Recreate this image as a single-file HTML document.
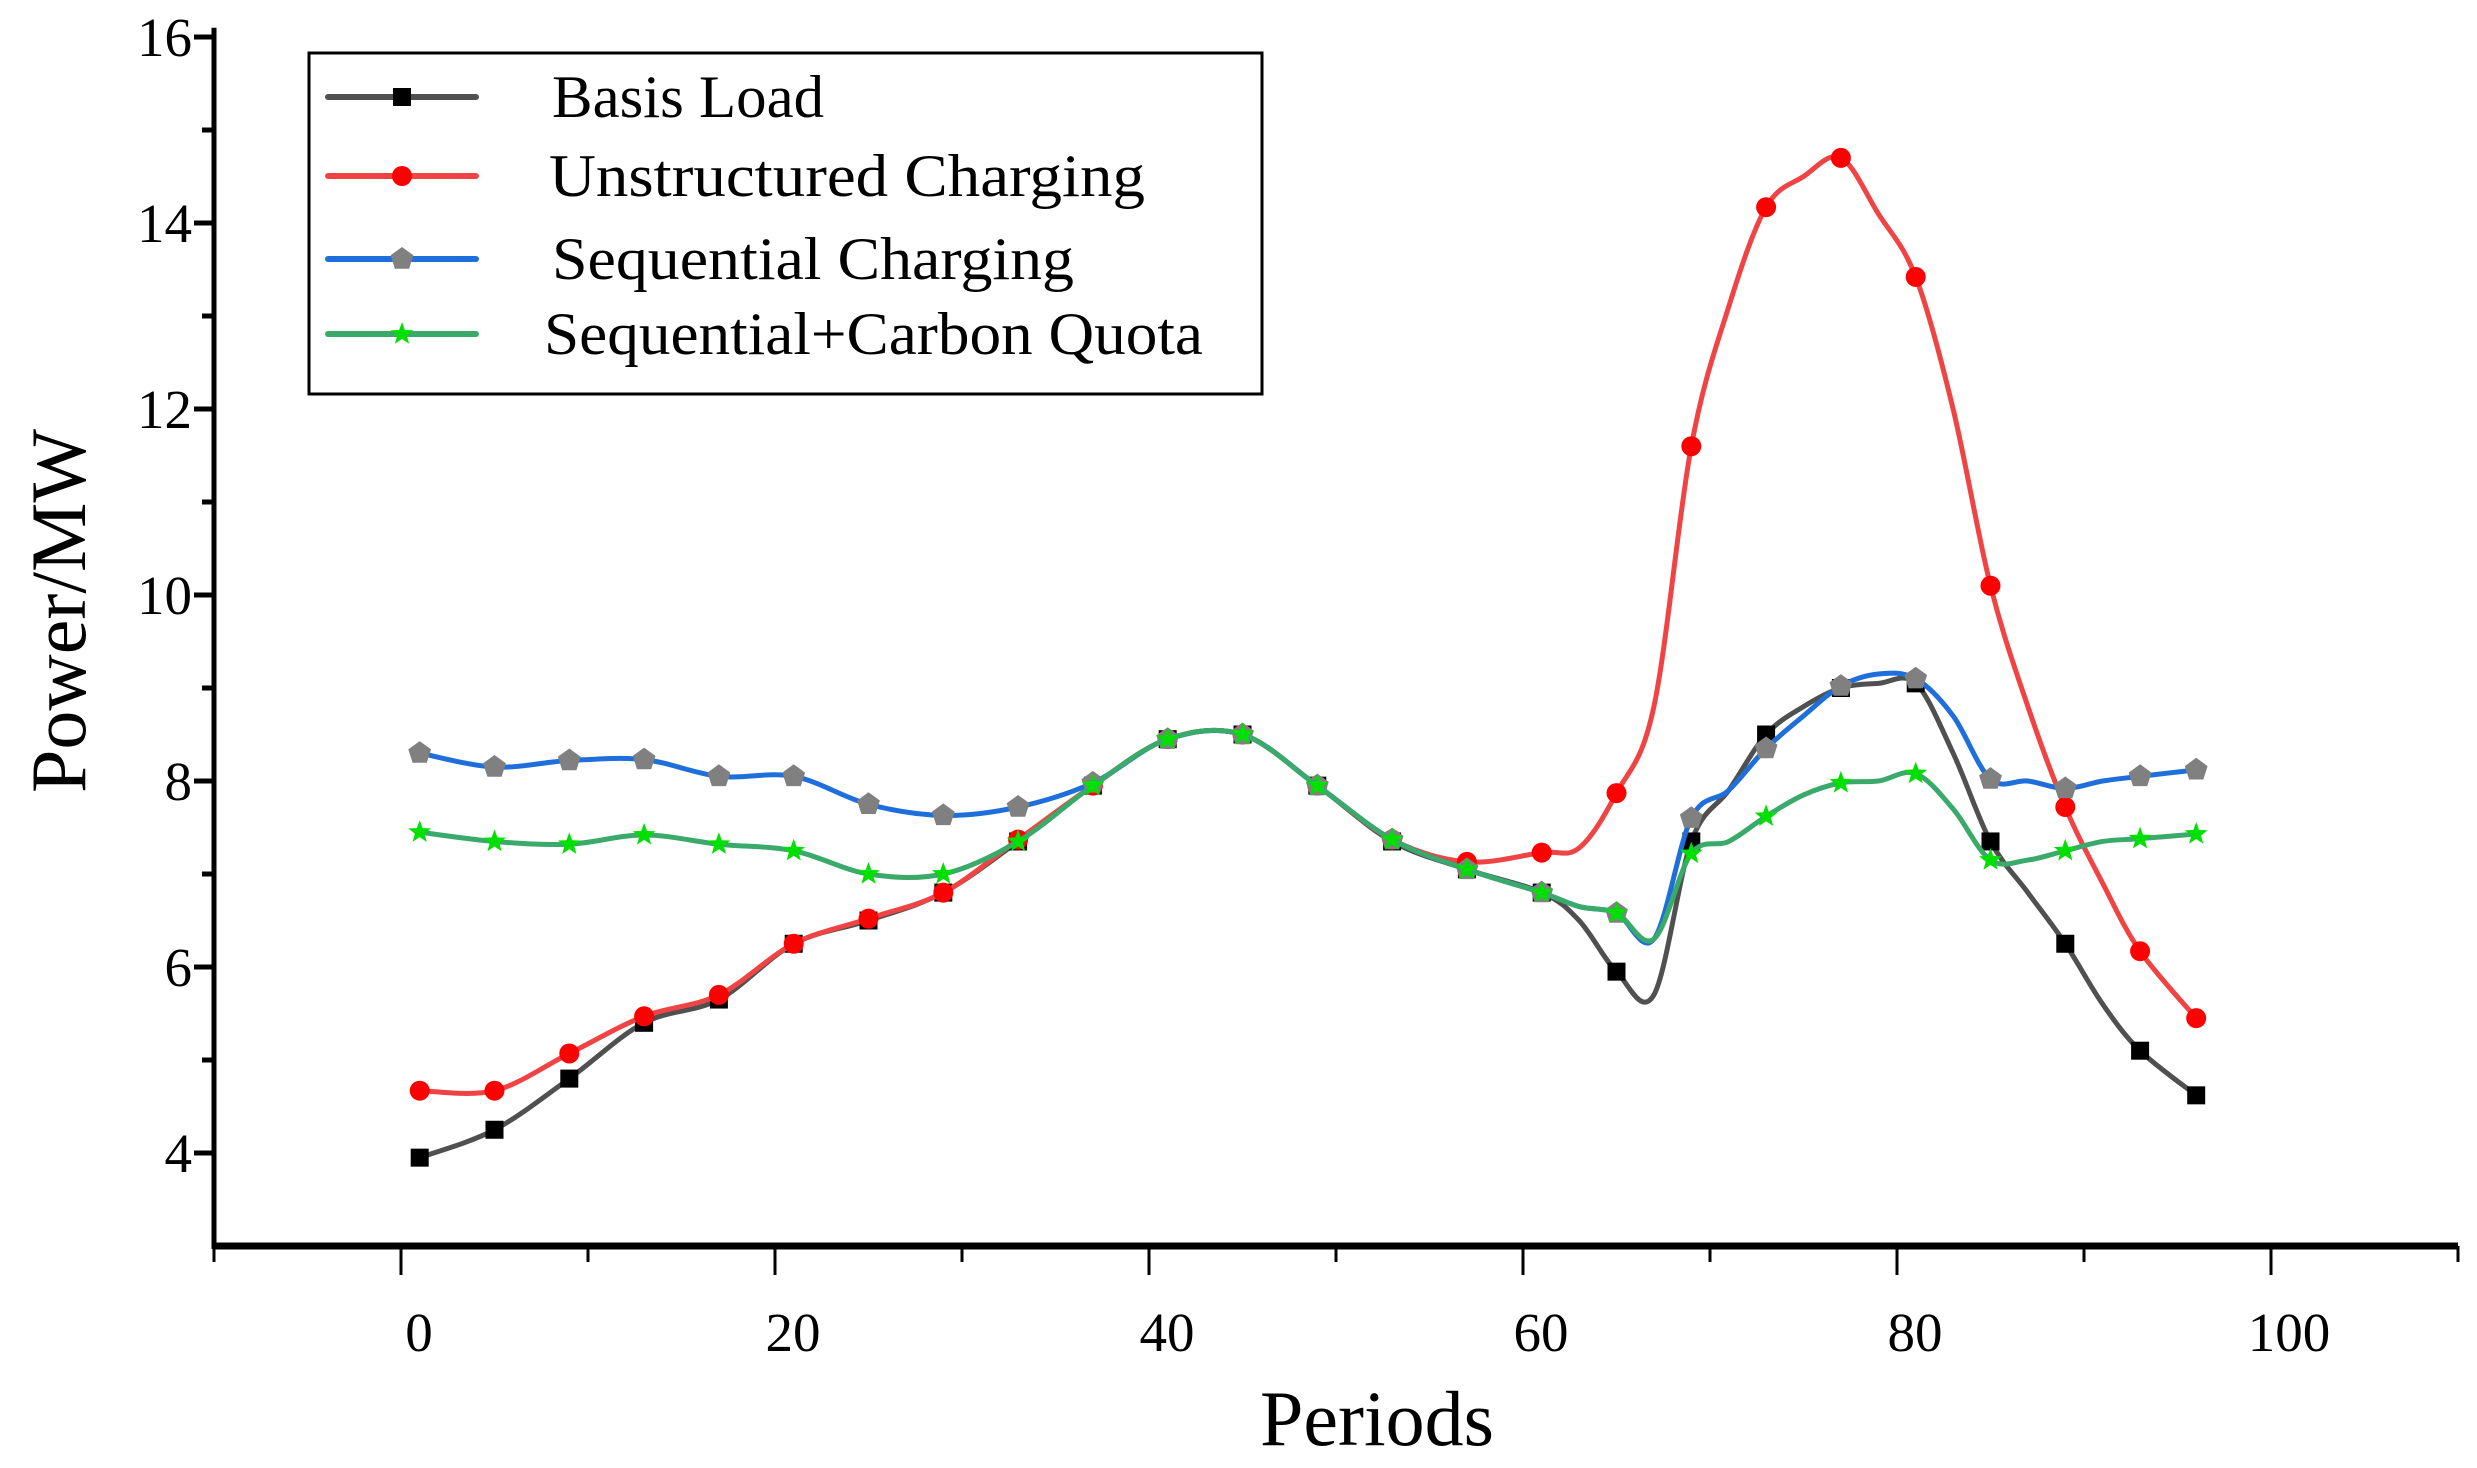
<!DOCTYPE html>
<html><head><meta charset="utf-8"><style>
html,body{margin:0;padding:0;background:#fff;}
svg{display:block;font-family:"Liberation Serif",serif;}
</style></head><body>
<svg id="chart" width="2477" height="1468" viewBox="0 0 2477 1468">
<g id="axes"></g>
<g id="series"></g>
<g id="legend"></g>
<text x="1377" y="1445" font-size="78" text-anchor="middle">Periods</text>
<text transform="translate(85,611) rotate(-90)" font-size="78" text-anchor="middle">Power/MW</text>
</svg>
<script>
const periods = [1,5,9,13,17,21,25,29,33,37,41,45,49,53,57,61,63,65,67,69,71,73,75,77,79,81,83,85,87,89,91,93,96];
const basisLoad = [3.95,4.25,4.8,5.4,5.65,6.25,6.5,6.8,7.35,7.95,8.45,8.5,7.95,7.35,7.05,6.8,6.5,5.95,5.7,7.35,7.9,8.5,8.8,9.0,9.05,9.05,8.3,7.35,6.8,6.25,5.6,5.1,4.62];
const unstructured = [4.67,4.67,5.07,5.47,5.7,6.25,6.52,6.8,7.37,7.95,8.45,8.5,7.95,7.37,7.13,7.23,7.28,7.87,8.8,11.6,13.1,14.17,14.5,14.7,14.1,13.42,12.0,10.1,8.8,7.72,6.9,6.17,5.45];
const sequential = [8.3,8.15,8.22,8.23,8.05,8.05,7.75,7.63,7.72,7.98,8.45,8.5,7.95,7.37,7.05,6.8,6.65,6.58,6.3,7.6,7.9,8.35,8.7,9.02,9.15,9.1,8.7,8.02,8.0,7.92,8.0,8.05,8.12];
const carbonQuota = [7.45,7.35,7.32,7.42,7.32,7.25,7.0,7.0,7.35,7.95,8.45,8.5,7.95,7.37,7.05,6.8,6.65,6.58,6.3,7.22,7.35,7.62,7.85,7.98,8.0,8.08,7.7,7.15,7.15,7.25,7.35,7.38,7.43];
const xTicks = [0,20,40,60,80,100];
const yTicks = [4,6,8,10,12,14,16];
const seriesNames = ["Basis Load","Unstructured Charging","Sequential Charging","Sequential+Carbon Quota"];

const NS="http://www.w3.org/2000/svg";
const X=v=>401+18.70*v;
const Y=v=>1153-(v-4)*93;
function mk(tag,attrs,parent){const e=document.createElementNS(NS,tag);for(const k in attrs)e.setAttribute(k,attrs[k]);parent.appendChild(e);return e;}
const axes=document.getElementById('axes');
let e;
e=mk('line',{x1:X(-10),y1:Y(3),x2:X(110),y2:Y(3),stroke:'#000','stroke-width':7},axes);


e=mk('line',{x1:X(-10),y1:Y(3)+3,x2:X(-10),y2:Y(16.1),stroke:'#000','stroke-width':5},axes);


for(let v=-10;v<=110;v+=10){
  const major=(v%20===0);
  e=mk('line',{x1:X(v),y1:Y(3),x2:X(v),y2:Y(3)+(major?29:16),stroke:'#000','stroke-width':3},axes);
  
  
}
xTicks.forEach(v=>{
  e=mk('text',{x:X(v)+18,y:1351,'font-size':55,'text-anchor':'middle'},axes);e.textContent=v;
  
  
});
for(let v=5;v<=15;v+=2){
  e=mk('line',{x1:X(-10)-12,y1:Y(v),x2:X(-10),y2:Y(v),stroke:'#000','stroke-width':5},axes);
  
  
}
yTicks.forEach(v=>{
  e=mk('line',{x1:X(-10)-20,y1:Y(v),x2:X(-10),y2:Y(v),stroke:'#000','stroke-width':5},axes);
  
  
  e=mk('text',{x:X(-10)-22,y:Y(v)+19,'font-size':55,'text-anchor':'end'},axes);e.textContent=v;
  
  
});
function smoothPath(pts){
  let d=`M${pts[0][0]},${pts[0][1]}`;
  for(let i=0;i<pts.length-1;i++){
    const p0=pts[i-1]||pts[i],p1=pts[i],p2=pts[i+1],p3=pts[i+2]||p2;
    const c1=[p1[0]+(p2[0]-p0[0])/6,p1[1]+(p2[1]-p0[1])/6];
    const c2=[p2[0]-(p3[0]-p1[0])/6,p2[1]-(p3[1]-p1[1])/6];
    d+=` C${c1[0]},${c1[1]} ${c2[0]},${c2[1]} ${p2[0]},${p2[1]}`;
  }
  return d;
}
function marker(type,cx,cy,parent){
  let m;
  if(type==='square') m=mk('rect',{x:cx-9,y:cy-9,width:18,height:18,fill:'#000'},parent);
  else if(type==='circle') m=mk('ellipse',{cx:cx,cy:cy,rx:10,ry:10,fill:'#ff0000'},parent);
  else if(type==='pentagon'){let p=[];for(let k=0;k<5;k++){const a=-Math.PI/2+k*2*Math.PI/5;p.push((cx+12*Math.cos(a)).toFixed(1)+','+(cy+12*Math.sin(a)).toFixed(1));}m=mk('polygon',{points:p.join(' '),fill:'#808080'},parent);}
  else {let p=[];for(let k=0;k<10;k++){const a=-Math.PI/2+k*Math.PI/5;const r=k%2?5:12;p.push((cx+r*Math.cos(a)).toFixed(1)+','+(cy+r*Math.sin(a)).toFixed(1));}m=mk('polygon',{points:p.join(' '),fill:'#00e000'},parent);}
  return m;
}
const defs=[
 {vals:basisLoad,color:'#505050',m:'square',name:'basis-load'},
 {vals:unstructured,color:'#f04444',m:'circle',name:'unstructured-charging'},
 {vals:sequential,color:'#1e6fdc',m:'pentagon',name:'sequential-charging'},
 {vals:carbonQuota,color:'#3aaa6a',m:'star',name:'sequential-carbon-quota'}
];
const sg=document.getElementById('series');
defs.forEach(s=>{
  const g=mk('g',{},sg);
  
  
  const pts=periods.map((p,i)=>[X(p),Y(s.vals[i])]);
  const path=mk('path',{d:smoothPath(pts),fill:'none',stroke:s.color,'stroke-width':5,'stroke-linejoin':'round'},g);
  
  
  periods.forEach((p,i)=>{
    if((p-1)%4===0||p===96){
      const mm=marker(s.m,X(p),Y(s.vals[i]),g);
      
      
    }
  });
});
const lg=document.getElementById('legend');
e=mk('rect',{x:309,y:53,width:953,height:341,fill:'#fff',stroke:'#000','stroke-width':3},lg);


const rowsY=[97,176,259,334];
const textX=[552,549,552,544];
const textW=[272,596,522,659];
defs.forEach((s,i)=>{
  const g=mk('g',{},lg);
  
  
  mk('line',{x1:328,y1:rowsY[i],x2:476,y2:rowsY[i],stroke:s.color,'stroke-width':6,'stroke-linecap':'round'},g);
  marker(s.m,402,rowsY[i],g);
  const t=mk('text',{x:textX[i],y:rowsY[i]+20,'font-size':60,textLength:textW[i],lengthAdjust:'spacingAndGlyphs'},g);
  t.textContent=seriesNames[i];
});
</script>
</body></html>
